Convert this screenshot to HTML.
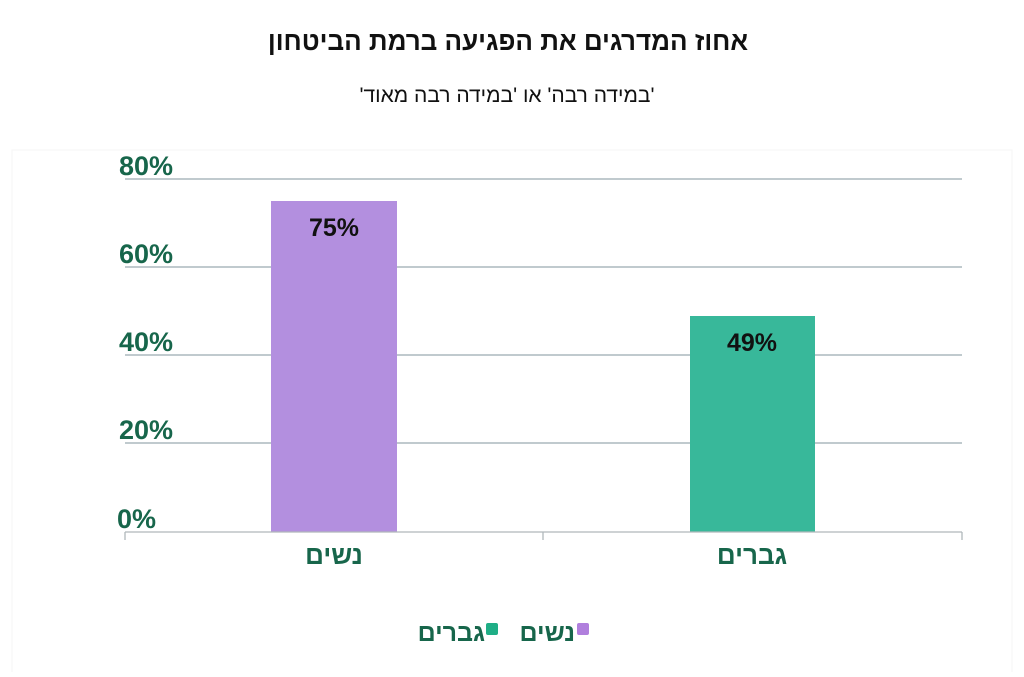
<!DOCTYPE html>
<html><head><meta charset="utf-8"><style>
body{margin:0;background:#fff;}
svg text{font-family:"Liberation Sans","Noto Sans CJK SC",sans-serif;}
</style></head><body>
<svg width="1024" height="672" viewBox="0 0 1024 672" xmlns="http://www.w3.org/2000/svg">
<rect width="1024" height="672" fill="#fff"/>
<rect x="12" y="150" width="1000" height="530" fill="#fff" stroke="#f5f5f5"/>
<text x="508" y="50" text-anchor="middle" font-size="26" font-weight="bold" fill="#111">אחוז המדרגים את הפגיעה ברמת הביטחון</text>
<text x="507" y="102" text-anchor="middle" font-size="21" fill="#111">'במידה רבה' או 'במידה רבה מאוד'</text>
<g stroke="#9aaab0" stroke-width="1.3">
<line x1="125" y1="179" x2="962" y2="179"/>
<line x1="125" y1="267" x2="962" y2="267"/>
<line x1="125" y1="355" x2="962" y2="355"/>
<line x1="125" y1="443" x2="962" y2="443"/>
</g>
<rect x="271" y="201" width="126" height="331" fill="#b38fdf"/>
<rect x="690" y="316" width="125" height="216" fill="#38b89a"/>
<g stroke="#b0b8bb" stroke-width="1.3">
<line x1="125" y1="532" x2="962" y2="532"/>
<line x1="125" y1="532" x2="125" y2="540"/>
<line x1="543" y1="532" x2="543" y2="540"/>
<line x1="962" y1="532" x2="962" y2="540"/>
</g>
<g font-size="27" font-weight="bold" fill="#17664b">
<text x="119" y="175">80%</text>
<text x="119" y="263">60%</text>
<text x="119" y="351">40%</text>
<text x="119" y="439">20%</text>
<text x="117" y="528">0%</text>
</g>
<text x="334" y="236" text-anchor="middle" font-size="25" font-weight="bold" fill="#111">75%</text>
<text x="752" y="351" text-anchor="middle" font-size="25" font-weight="bold" fill="#111">49%</text>
<g font-size="26" font-weight="bold" fill="#17664b" text-anchor="middle">
<text x="334" y="564">נשים</text>
<text x="752" y="564">גברים</text>
</g>
<rect x="577" y="623" width="12" height="12" rx="2" fill="#b07fdd"/>
<text x="575" y="641" text-anchor="end" font-size="25" font-weight="bold" fill="#17664b">נשים</text>
<rect x="486" y="623" width="12" height="12" rx="2" fill="#1fae86"/>
<text x="485" y="641" text-anchor="end" font-size="25" font-weight="bold" fill="#17664b">גברים</text>
</svg>
</body></html>
